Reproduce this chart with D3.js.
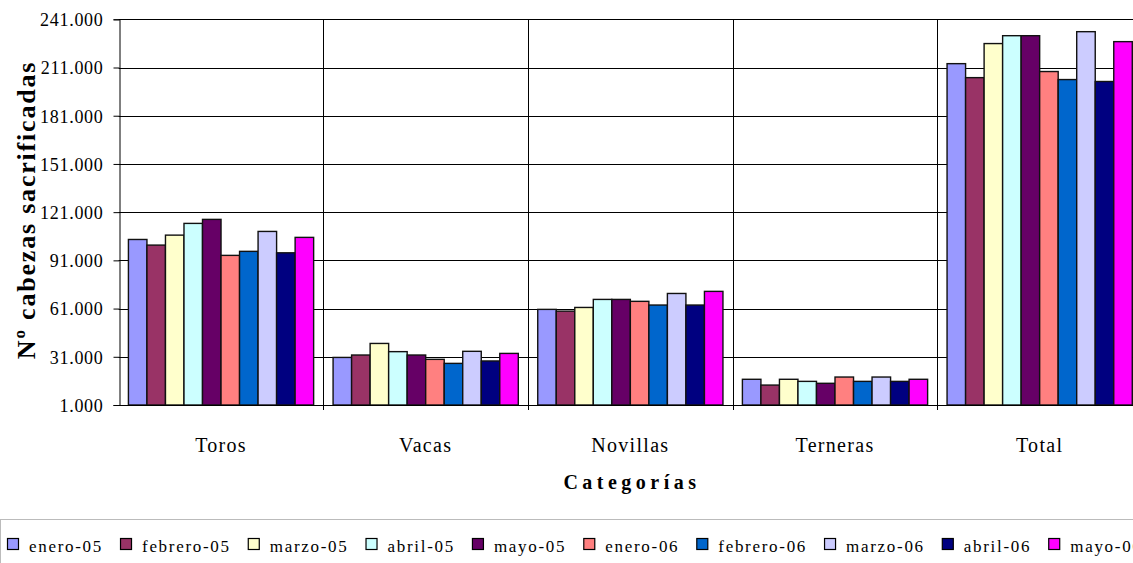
<!DOCTYPE html>
<html>
<head>
<meta charset="utf-8">
<script src="https://cdn.jsdelivr.net/npm/d3@7"></script>
<style>
  body { margin: 0; background: #fff; }
  svg text { font-family: "Liberation Serif", "Times New Roman", Times, "DejaVu Serif", serif; fill: #000; }
</style>
</head>
<body>
<div id="chart"></div>
<script>
let categories = ["Toros", "Vacas", "Novillas", "Terneras", "Total"];
let series = ["enero-05", "febrero-05", "marzo-05", "abril-05", "mayo-05",
  "enero-06", "febrero-06", "marzo-06", "abril-06", "mayo-06"];
let seriesColors = ["#9999FF", "#993366", "#FFFFCC", "#CCFFFF", "#660066",
  "#FF8080", "#0066CC", "#CCCCFF", "#000080", "#FF00FF"];

// one array per series, values in category order
let enero05 = [104000, 30600, 60500, 17000, 213400];
let febrero05 = [100500, 32100, 59400, 13400, 204700];
let marzo05 = [106700, 39300, 61700, 17000, 225900];
let abril05 = [114000, 34200, 66700, 15700, 230800];
let mayo05 = [116500, 32100, 66700, 14500, 230800];
let enero06 = [94100, 29400, 65500, 18400, 208500];
let febrero06 = [96600, 26900, 63200, 15700, 203500];
let marzo06 = [109000, 34400, 70400, 18400, 233300];
let abril06 = [95700, 28400, 63200, 15700, 202300];
let mayo06 = [105300, 33100, 71700, 17000, 227100];
let seriesValues = [enero05, febrero05, marzo05, abril05, mayo05,
  enero06, febrero06, marzo06, abril06, mayo06];

let yTicks = [1000, 31000, 61000, 91000, 121000, 151000, 181000, 211000, 241000];

let width = 1133, height = 563;
let plot = { left: 118.7, right: 1142, top: 19.3, bottom: 405 };
let serif = "'Liberation Serif', 'Times New Roman', Times, 'DejaVu Serif', serif";

let svg = d3.select("#chart")
  .append("svg")
  .attr("width", width)
  .attr("height", height);

let esLocale = d3.formatLocale({ decimal: ",", thousands: ".", grouping: [3], currency: ["", " €"] });
let fmtTick = esLocale.format(",");

let x0 = d3.scaleBand().domain(categories).range([plot.left, plot.right]);
let x1 = d3.scaleBand().domain(series)
  .range([x0.bandwidth() * 0.0475, x0.bandwidth() * 0.9525]);
let y = d3.scaleLinear().domain([1000, 241000]).range([plot.bottom, plot.top]);

// horizontal gridlines
svg.append("g")
  .selectAll("line")
  .data(yTicks)
  .enter()
  .append("line")
  .attr("x1", plot.left)
  .attr("x2", plot.right)
  .attr("y1", function (d) { return Math.round(y(d)) + 0.5; })
  .attr("y2", function (d) { return Math.round(y(d)) + 0.5; })
  .attr("stroke", "#000")
  .attr("stroke-width", 1);

// vertical category separators
svg.append("g")
  .selectAll("line")
  .data(categories.slice(1))
  .enter()
  .append("line")
  .attr("x1", function (d) { return Math.round(x0(d)) + 0.5; })
  .attr("x2", function (d) { return Math.round(x0(d)) + 0.5; })
  .attr("y1", plot.top)
  .attr("y2", plot.bottom + 5)
  .attr("stroke", "#000")
  .attr("stroke-width", 1);

// bars
let groups = svg.append("g")
  .selectAll("g")
  .data(categories)
  .enter()
  .append("g")
  .attr("transform", function (d) { return "translate(" + x0(d) + ",0)"; });

groups.selectAll("rect")
  .data(function (c, ci) {
    return series.map(function (s, si) {
      return { s: s, v: seriesValues[si][ci], color: seriesColors[si] };
    });
  })
  .enter()
  .append("rect")
  .attr("x", function (d) { return x1(d.s); })
  .attr("width", x1.bandwidth())
  .attr("y", function (d) { return y(d.v); })
  .attr("height", function (d) { return y(1000) - y(d.v); })
  .attr("fill", function (d) { return d.color; })
  .attr("stroke", "#111")
  .attr("stroke-width", 1.4);

// y axis
let yAxis = svg.append("g")
  .attr("transform", "translate(" + (Math.round(plot.left) + 0.5) + ",0)")
  .call(d3.axisLeft(y).tickValues(yTicks).tickFormat(fmtTick).tickSize(6).tickPadding(10));
yAxis.attr("font-family", null);
yAxis.select(".domain").attr("stroke", "#000");
yAxis.selectAll(".tick line").attr("stroke", "#000");
yAxis.selectAll(".tick text")
  .attr("font-family", serif)
  .style("font-size", "18px")
  .style("letter-spacing", "0.7px")
  .attr("dy", "0.35em");

// x axis line
svg.append("line")
  .attr("x1", plot.left)
  .attr("x2", plot.right)
  .attr("y1", Math.round(plot.bottom) + 0.5)
  .attr("y2", Math.round(plot.bottom) + 0.5)
  .attr("stroke", "#000");

// category labels
svg.append("g")
  .selectAll("text")
  .data(categories)
  .enter()
  .append("text")
  .attr("x", function (d) { return x0(d) + x0.bandwidth() / 2; })
  .attr("y", 452)
  .attr("text-anchor", "middle")
  .attr("font-family", serif)
  .style("font-size", "20px")
  .style("letter-spacing", "1.3px")
  .text(function (d) { return d; });

// x title
svg.append("text")
  .attr("x", 632)
  .attr("y", 489)
  .attr("text-anchor", "middle")
  .attr("font-family", serif)
  .style("font-size", "20px")
  .style("font-weight", "bold")
  .style("letter-spacing", "4.5px")
  .text("Categorías");

// y title
svg.append("text")
  .attr("transform", "translate(35,210) rotate(-90)")
  .attr("text-anchor", "middle")
  .attr("font-family", serif)
  .style("font-size", "26px")
  .style("font-weight", "bold")
  .style("letter-spacing", "1.8px")
  .text("Nº cabezas sacrificadas");

// legend
svg.append("rect")
  .attr("x", 0.5)
  .attr("y", 519.5)
  .attr("width", 1150)
  .attr("height", 60)
  .attr("fill", "none")
  .attr("stroke", "#bbb");

let legend = svg.append("g").attr("transform", "translate(7,538)");
let lx = 0;
series.forEach(function (s, i) {
  let item = legend.append("g").attr("transform", "translate(" + lx + ",0)");
  item.append("rect")
    .attr("x", 0.5).attr("y", 0.5)
    .attr("width", 11).attr("height", 11)
    .attr("fill", seriesColors[i])
    .attr("stroke", "#000")
    .attr("stroke-width", 1.2);
  let t = item.append("text")
    .attr("x", 22)
    .attr("y", 14)
    .attr("font-family", serif)
    .style("font-size", "17px")
    .style("letter-spacing", "1.7px")
    .text(s);
  lx += 22 + t.node().getComputedTextLength() + 17;
});
</script>
</body>
</html>
